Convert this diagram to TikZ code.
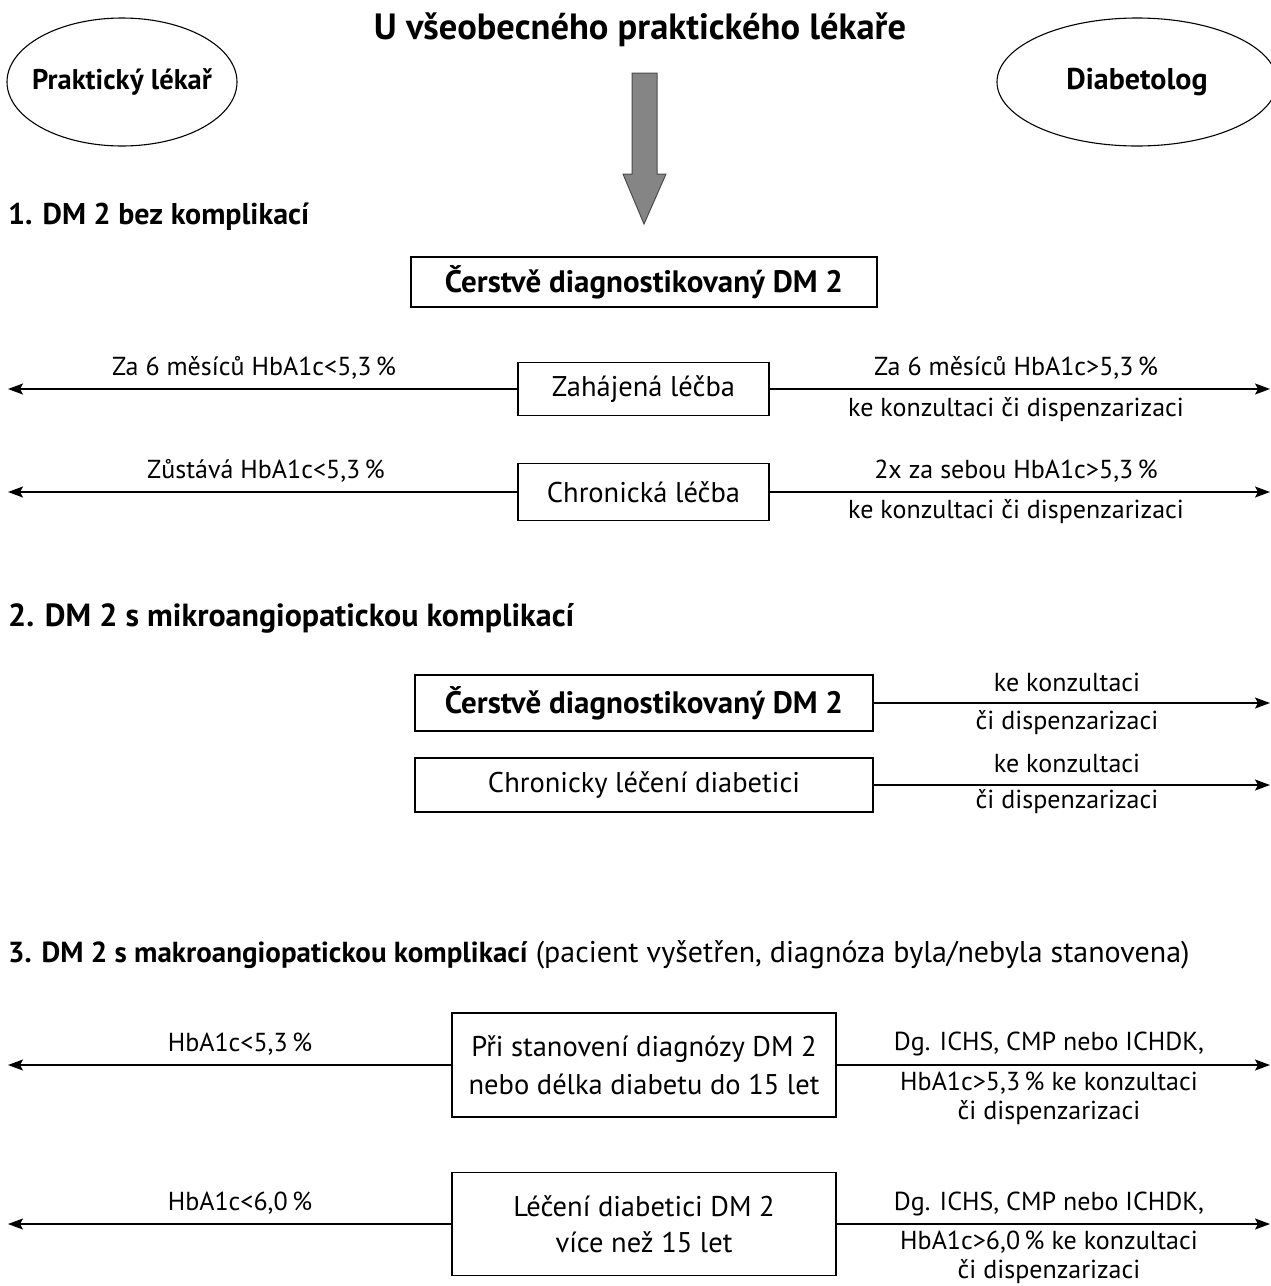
\documentclass[tikz,border=0pt]{standalone}
\usepackage{fontspec}
\setmainfont{PT Sans}
\usetikzlibrary{arrows.meta,shapes.geometric}
\newcommand\fnorm{\fontsize{26}{31}\selectfont}
\newcommand\fboxt{\fontsize{28.5}{34}\selectfont}
\newcommand\fhead{\fontsize{30}{34}\selectfont\bfseries}
\newcommand\fboxb{\fontsize{31}{34}\selectfont\bfseries}
\newcommand\ftitle{\fontsize{36.5}{40}\selectfont\bfseries}
\definecolor{arrowgray}{HTML}{858585}
\tikzset{
  box/.style={draw, line width=1.3pt, inner sep=0pt, align=center, font=\fboxt},
  oval/.style={draw, ellipse, line width=1.1pt, inner sep=-30pt},
  lab/.style={inner sep=0pt, font=\fnorm, align=center},
  head/.style={inner sep=0pt, anchor=west, font=\fhead},
  conn/.style={line width=1.3pt, -{Stealth[length=15pt,width=11pt,inset=3pt]}}
}
\begin{document}
\begin{tikzpicture}[x=1pt,y=-1pt]
\useasboundingbox (0,0) rectangle (1271,1286);
\clip (0,0) rectangle (1271,1286);
\fill[white] (0,0) rectangle (1271,1286);

% title and ellipses
\node[inner sep=0pt, font=\ftitle] (title) at (640,30) {U všeobecného praktického lékaře};
\node[oval, minimum width=230pt, minimum height=128pt, font=\fontsize{28.5}{32}\selectfont\bfseries] (pl) at (122,82) {Praktický lékař};
\node[oval, minimum width=280pt, minimum height=128pt, font=\fontsize{30}{34}\selectfont\bfseries] (dia) at (1137,82) {Diabetolog};

% big gray arrow
\draw[fill=arrowgray, draw=black!70, line width=1pt]
  (632,73) -- (657,73) -- (657,174) -- (666,174) -- (644,224) -- (623,174) -- (632,174) -- cycle;

% section 1
\node[head] (s1) at (8,217) {1. DM 2 bez komplikací};
\node[box, font=\fboxb, minimum width=466pt, minimum height=50pt] (b1) at (644,282) {Čerstvě diagnostikovaný DM 2};

\node[box, minimum width=251pt, minimum height=53pt] (zl) at (643.5,389) {Zahájená léčba};
\coordinate (zlL) at (8,389);
\coordinate (zlR) at (1270,389);
\draw[conn] (zl.west) -- (zlL);
\draw[conn] (zl.east) -- (zlR);
\node[lab] (zlA) at (254,368) {Za 6 měsíců HbA1c<5,3\,\%};
\node[lab] (zlB) at (1016,368) {Za 6 měsíců HbA1c>5,3\,\%};
\node[lab] (zlC) at (1016,410) {ke konzultaci či dispenzarizaci};

\node[box, minimum width=251pt, minimum height=57pt] (cl) at (643.5,492) {Chronická léčba};
\coordinate (clL) at (8,492);
\coordinate (clR) at (1270,492);
\draw[conn] (cl.west) -- (clL);
\draw[conn] (cl.east) -- (clR);
\node[lab] (clA) at (266,471) {Zůstává HbA1c<5,3\,\%};
\node[lab] (clB) at (1016,471) {2x za sebou HbA1c>5,3\,\%};
\node[lab] (clC) at (1016,512) {ke konzultaci či dispenzarizaci};

% section 2
\node[head, font=\fontsize{32}{34}\selectfont\bfseries] (s2) at (8,618) {2. DM 2 s mikroangiopatickou komplikací};
\node[box, font=\fboxb, minimum width=458pt, minimum height=56pt] (b2) at (644,703) {Čerstvě diagnostikovaný DM 2};
\coordinate (b2R) at (1270,703);
\draw[conn] (b2.east) -- (b2R);
\node[lab] (b2A) at (1067,682) {ke konzultaci};
\node[lab] (b2B) at (1067,723) {či dispenzarizaci};

\node[box, minimum width=458pt, minimum height=54pt] (b3) at (644,785) {Chronicky léčení diabetici};
\coordinate (b3R) at (1270,785);
\draw[conn] (b3.east) -- (b3R);
\node[lab] (b3A) at (1067,763) {ke konzultaci};
\node[lab] (b3B) at (1067,802) {či dispenzarizaci};

% section 3
\node[head, font=\fontsize{29}{34}\selectfont\bfseries] (s3) at (8,955) {3. DM 2 s makroangiopatickou komplikací\fontsize{30}{34}\selectfont\mdseries{} (pacient vyšetřen, diagnóza byla/nebyla stanovena)};

\node[box, minimum width=384pt, minimum height=104pt, font=\fontsize{28.5}{38}\selectfont] (m1) at (644,1065) {Při stanovení diagnózy DM 2\\nebo délka diabetu do 15 let};
\coordinate (m1L) at (8,1065);
\coordinate (m1R) at (1270,1065);
\draw[conn] (m1.west) -- (m1L);
\draw[conn] (m1.east) -- (m1R);
\node[lab] (m1A) at (240,1044) {HbA1c<5,3\,\%};
\node[lab] (m1B) at (1049,1044) {Dg. ICHS, CMP nebo ICHDK,};
\node[lab, anchor=north, font=\fontsize{26}{29}\selectfont] (m1C) at (1049,1072) {HbA1c>5,3\,\% ke konzultaci\\či dispenzarizaci};

\node[box, minimum width=384pt, minimum height=103pt, font=\fontsize{28.5}{36}\selectfont] (m2) at (644,1224) {Léčení diabetici DM 2\\více než 15 let};
\coordinate (m2L) at (8,1224);
\coordinate (m2R) at (1270,1224);
\draw[conn] (m2.west) -- (m2L);
\draw[conn] (m2.east) -- (m2R);
\node[lab] (m2A) at (240,1203) {HbA1c<6,0\,\%};
\node[lab] (m2B) at (1049,1204) {Dg. ICHS, CMP nebo ICHDK,};
\node[lab, anchor=north, font=\fontsize{26}{29}\selectfont] (m2C) at (1049,1231) {HbA1c>6,0\,\% ke konzultaci\\či dispenzarizaci};
\end{tikzpicture}
\end{document}
